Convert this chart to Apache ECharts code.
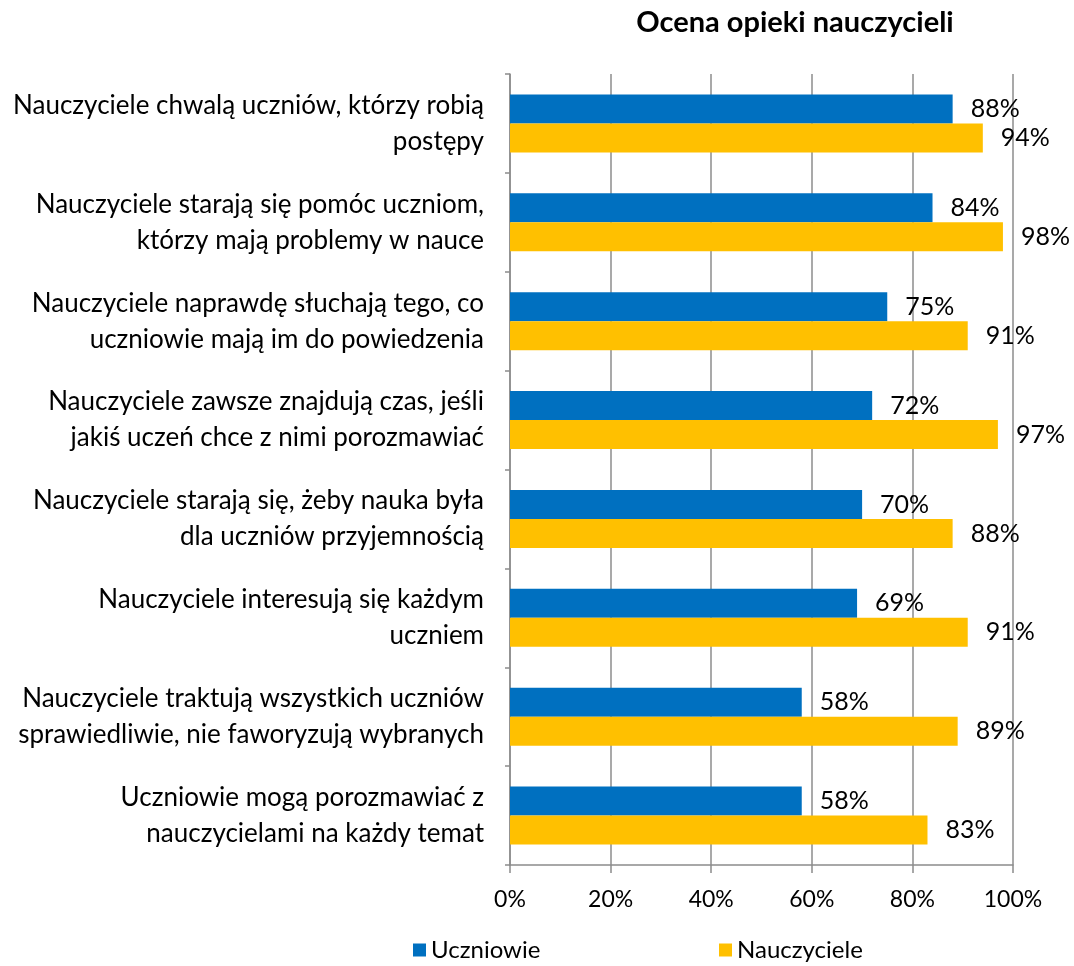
<!DOCTYPE html>
<html>
<head>
<meta charset="utf-8">
<script src="https://cdn.jsdelivr.net/npm/echarts@6/dist/echarts.min.js"></script>
<style>html,body{margin:0;padding:0;background:#fff;}#c{width:1074px;height:966px;}</style>
</head>
<body>
<div id="c"></div>
<script>
const categories = [
  "Nauczyciele chwalą uczniów, którzy robią\npostępy",
  "Nauczyciele starają się pomóc uczniom,\nktórzy mają problemy w nauce",
  "Nauczyciele naprawdę słuchają tego, co\nuczniowie mają im do powiedzenia",
  "Nauczyciele zawsze znajdują czas, jeśli\njakiś uczeń chce z nimi porozmawiać",
  "Nauczyciele starają się, żeby nauka była\ndla uczniów przyjemnością",
  "Nauczyciele interesują się każdym\nuczniem",
  "Nauczyciele traktują wszystkich uczniów\nsprawiedliwie, nie faworyzują wybranych",
  "Uczniowie mogą porozmawiać z\nnauczycielami na każdy temat"
];
const uczniowie = [88, 84, 75, 72, 70, 69, 58, 58];
const nauczyciele = [94, 98, 91, 97, 88, 91, 89, 83];
const seriesNames = ["Uczniowie", "Nauczyciele"];
const title = "Ocena opieki nauczycieli";

const FONT = "Lato";
const chart = echarts.init(document.getElementById('c'));
const lbl = {show: true, position: 'right', distance: 18, formatter: '{c}%', color: '#000', fontSize: 25, fontFamily: FONT};
chart.setOption({
  animation: false,
  title: {text: title, left: 790, top: 3, textAlign: 'center',
    textStyle: {fontFamily: FONT, fontWeight: 'bold', fontSize: 29, color: '#000'}},
  legend: [
    {data: [seriesNames[0]], left: 408, top: 933, itemWidth: 13, itemHeight: 13, itemGap: 6,
      icon: 'rect', textStyle: {fontFamily: FONT, fontSize: 24, color: '#000'}},
    {data: [seriesNames[1]], left: 714, top: 933, itemWidth: 13, itemHeight: 13, itemGap: 6,
      icon: 'rect', textStyle: {fontFamily: FONT, fontSize: 24, color: '#000'}}
  ],
  grid: {left: 510, right: 61, top: 74, bottom: 101, containLabel: false},
  xAxis: {
    type: 'value', min: 0, max: 100, interval: 20,
    axisLabel: {formatter: '{value}%', fontFamily: FONT, fontSize: 23, color: '#000', margin: 23},
    axisLine: {show: true, lineStyle: {color: '#8c8c8c', width: 1.5}},
    axisTick: {show: true, length: 8, lineStyle: {color: '#8c8c8c', width: 1.5}},
    splitLine: {show: true, lineStyle: {color: '#8c8c8c', width: 1.5}}
  },
  yAxis: {
    type: 'category', data: categories, inverse: true,
    axisLabel: {fontFamily: FONT, fontSize: 26, color: '#000', margin: 26, lineHeight: 36, align: 'right'},
    axisLine: {show: true, lineStyle: {color: '#8c8c8c', width: 1.5}},
    axisTick: {show: true, length: 5, lineStyle: {color: '#8c8c8c', width: 1.5}}
  },
  series: [
    {name: seriesNames[0], type: 'bar', data: uczniowie, barWidth: 29, barGap: '0%',
      itemStyle: {color: '#0070C0'}, label: lbl},
    {name: seriesNames[1], type: 'bar', data: nauczyciele, barWidth: 29, barGap: '0%',
      itemStyle: {color: '#FFC000'}, label: lbl}
  ]
});
</script>
</body>
</html>
